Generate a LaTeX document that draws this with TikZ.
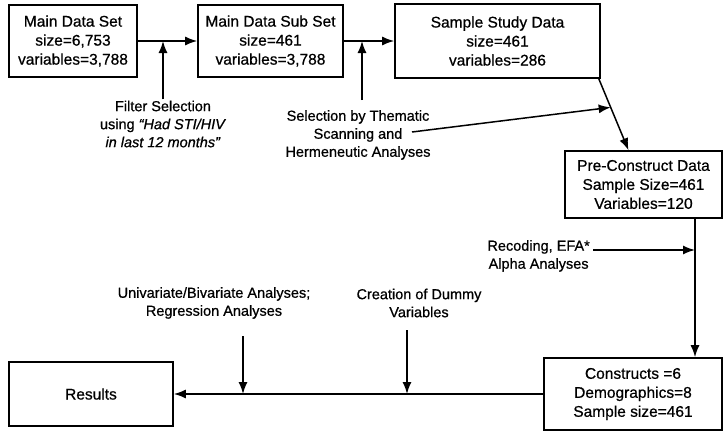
\documentclass[tikz,border=0pt]{standalone}
\usepackage{fontspec}
\setmainfont{Liberation Sans}[FakeBold=0.7]
\usetikzlibrary{arrows.meta,calc}
\begin{document}
\begin{tikzpicture}[x=1pt,y=-1pt,
 box/.style={draw, line width=1.6pt, font=\fontsize{15.5}{19}\selectfont, align=center, inner sep=0pt},
 lbl/.style={font=\fontsize{14.5}{18}\selectfont, align=center, inner sep=1pt},
 arr/.style={line width=1.5pt, -{Latex[length=12pt,width=9pt]}}]
\useasboundingbox (0,0) rectangle (726,434);
\node[box, minimum width=128, minimum height=72] (b1) at (73,41) {Main Data Set\\size=6,753\\variables=3,788};
\node[box, minimum width=145, minimum height=72] (b2) at (270.5,41) {Main Data Sub Set\\size=461\\variables=3,788};
\node[box, minimum width=205, minimum height=74] (b3) at (497.5,41) {Sample Study Data\\size=461\\variables=286};
\node[box, minimum width=157, minimum height=67] (b4) at (643.5,184.5) {Pre-Construct Data\\Sample Size=461\\Variables=120};
\node[box, minimum width=178, minimum height=72] (b5) at (633,394) {Constructs =6\\Demographics=8\\Sample size=461};
\node[box, minimum width=164, minimum height=64] (res) at (91,394) {Results};

\node[lbl] (filt) at (163,124) {Filter Selection\\using \textit{“Had STI/HIV}\\\textit{in last 12 months”}};
\node[lbl] (them) at (358,135) {Selection by Thematic\\Scanning and\\Hermeneutic Analyses};
\node[lbl, anchor=north east] (rec) at (591,239) {Recoding, EFA*\\Alpha Analyses};
\node[lbl] (uni) at (214,303) {Univariate/Bivariate Analyses;\\Regression Analyses};
\node[lbl] (dum) at (419,303) {Creation of Dummy\\Variables};

\coordinate (j1) at (163,41);
\coordinate (j2) at (362,41);
\coordinate (t2) at (362,100);
\coordinate (d1) at ([xshift=-2pt]b3.south east);
\coordinate (d2) at ([xshift=-15pt]b4.north);
\coordinate (j3) at ($(d1)!0.4!(d2)$);
\coordinate (t3) at (412,132);
\coordinate (j4) at (695,250);
\coordinate (t4) at (593,250);
\coordinate (j5) at (243,394);
\coordinate (t5) at (243,336);
\coordinate (j6) at (407,394);
\coordinate (t6) at (407,330);

\draw[arr] (b1.east) -- (b2.west);
\draw[arr] (filt.north) -- (j1);
\draw[arr] (b2.east) -- (b3.west);
\draw[arr] (t2) -- (j2);
\draw[arr] (d1) -- (d2);
\draw[arr] (t3) -- (j3);
\draw[arr] (b4.south -| j4) -- (b5.north -| j4);
\draw[arr] (t4) -- (j4);
\draw[arr] (b5.west) -- (res.east);
\draw[arr] (t5) -- (j5);
\draw[arr] (t6) -- (j6);
\end{tikzpicture}
\end{document}
